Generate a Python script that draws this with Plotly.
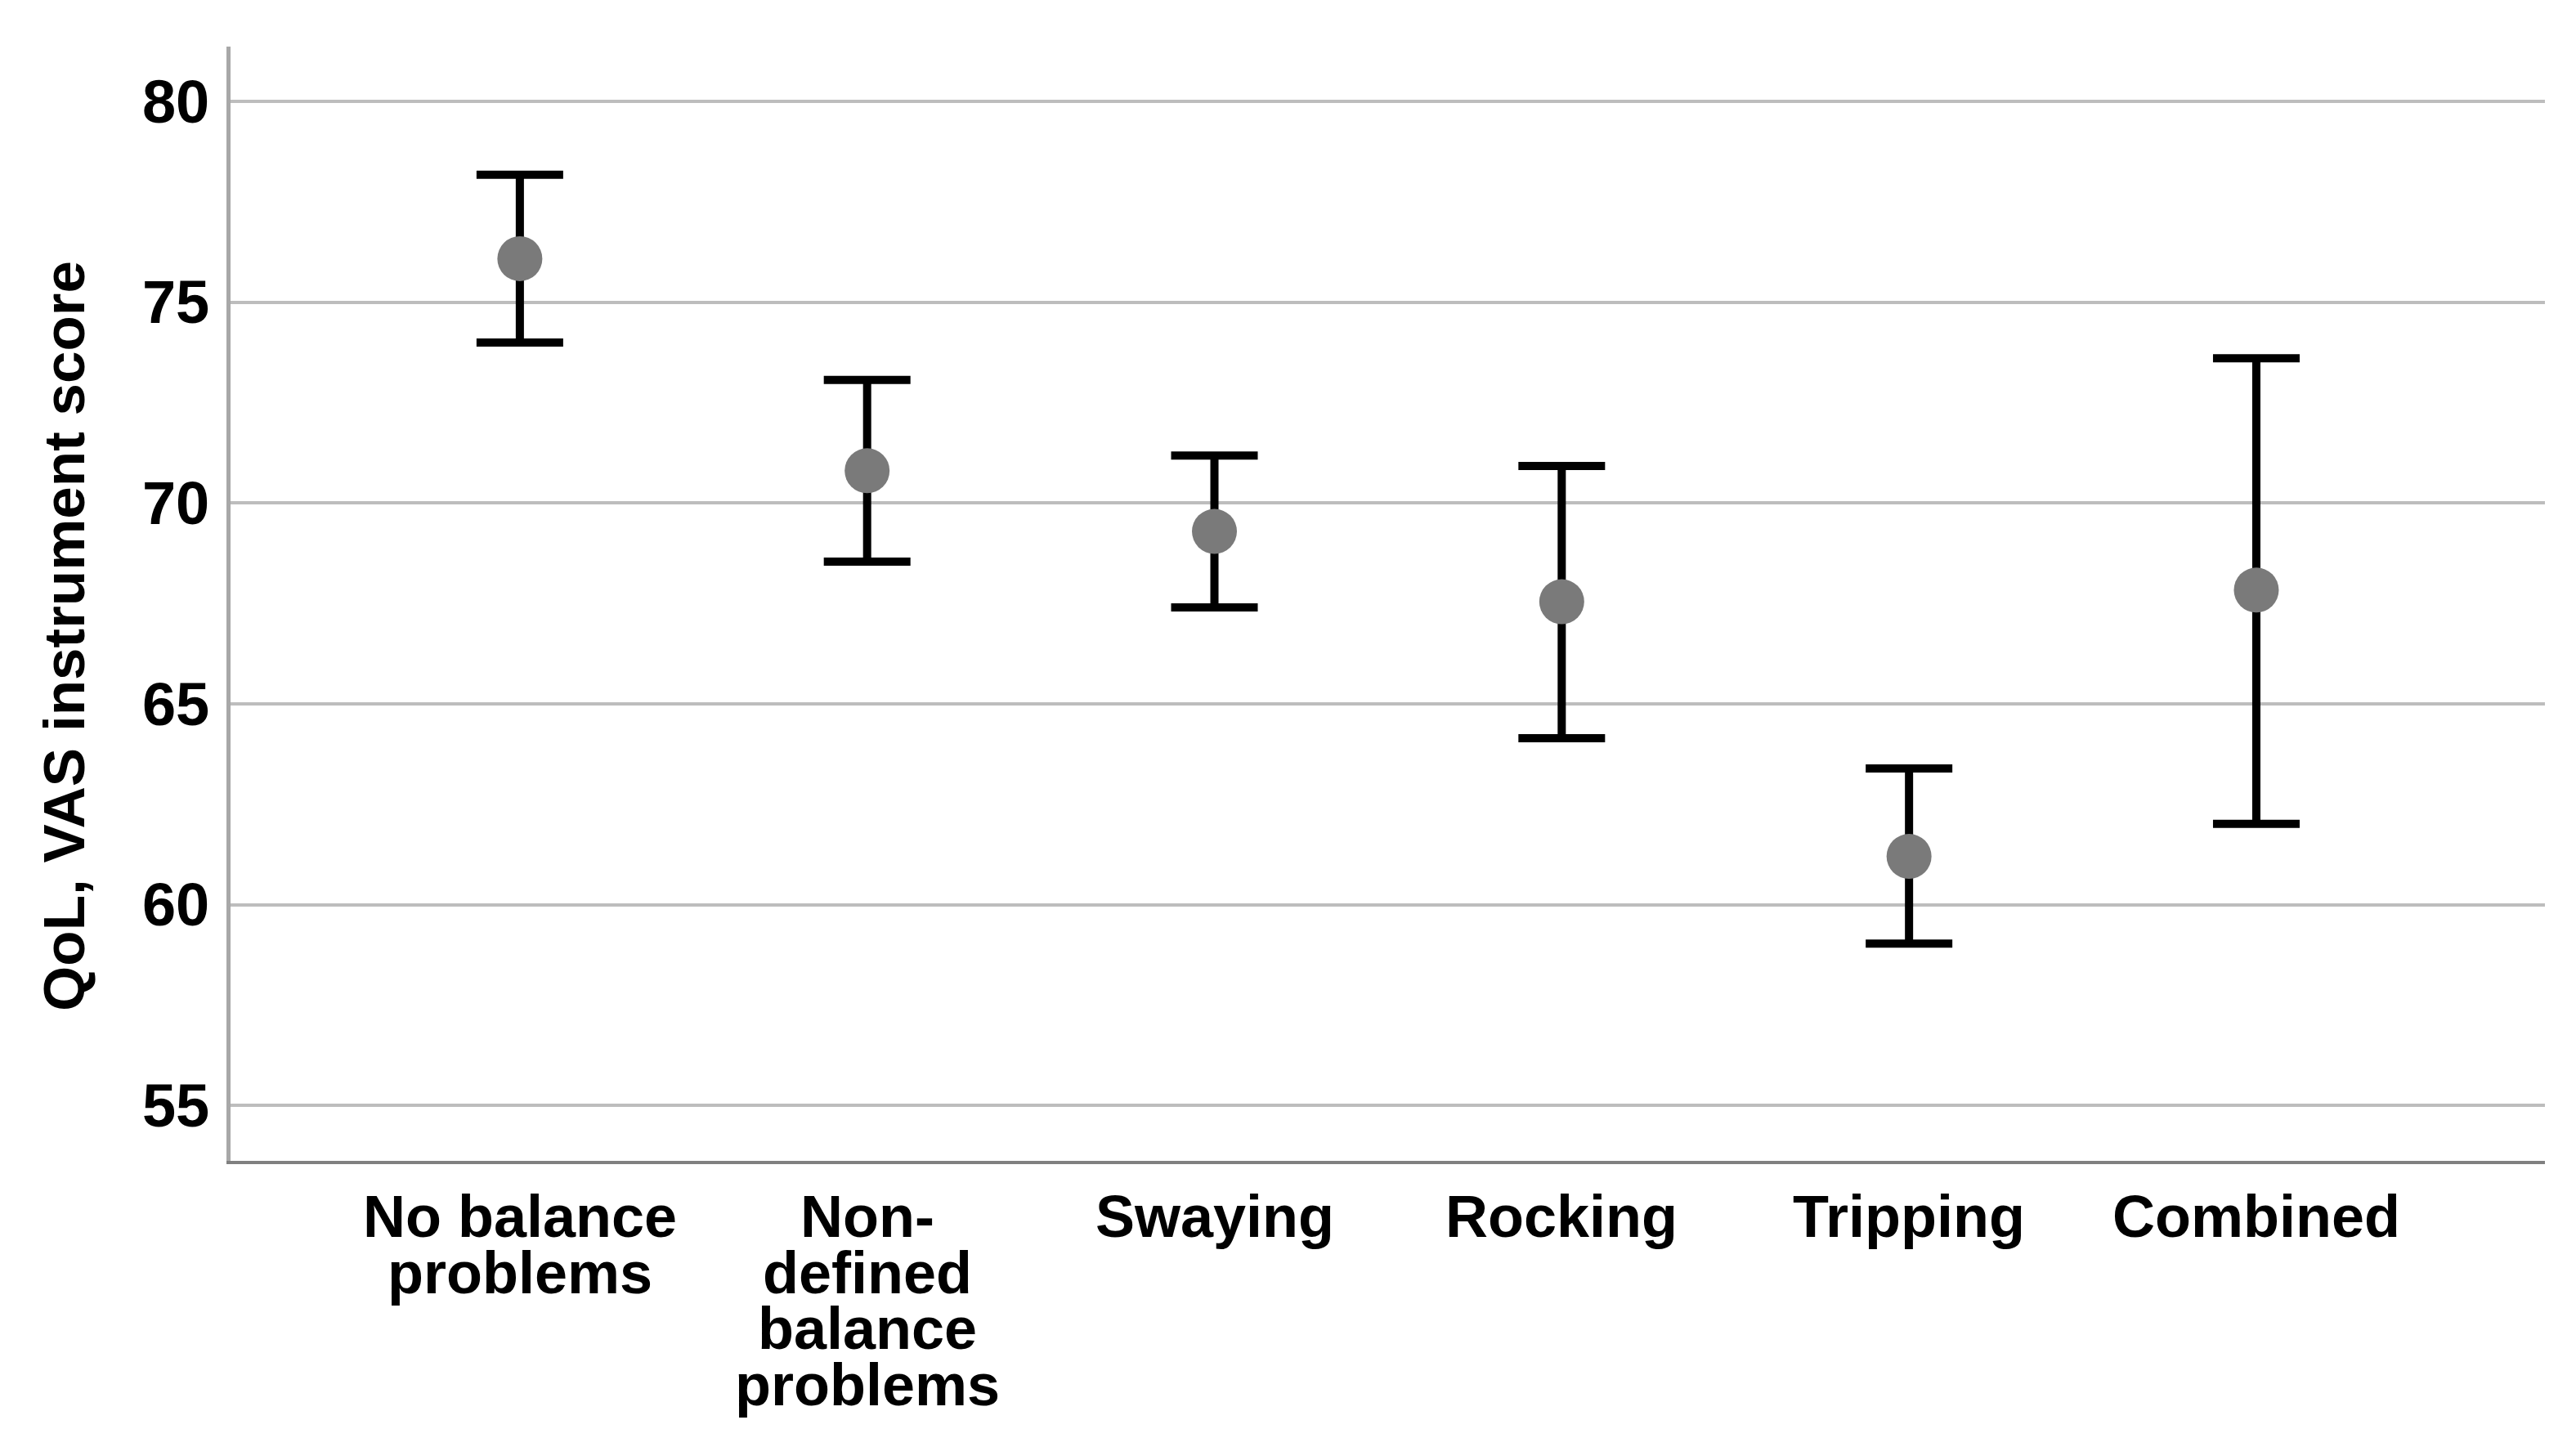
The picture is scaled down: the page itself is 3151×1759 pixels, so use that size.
import plotly.graph_objects as go

# ---- data ----
categories = ["No balance problems", "Non-defined balance problems", "Swaying",
              "Rocking", "Tripping", "Combined"]
category_lines = [["No balance", "problems"],
                  ["Non-", "defined", "balance", "problems"],
                  ["Swaying"], ["Rocking"], ["Tripping"], ["Combined"]]
means = [76.08, 70.80, 69.29, 67.54, 61.20, 67.83]
upper_ci = [78.17, 73.06, 71.18, 70.92, 63.39, 73.60]
lower_ci = [73.99, 68.54, 67.40, 64.14, 59.03, 62.01]
y_ticks = [55, 60, 65, 70, 75, 80]
y_title = "QoL, VAS instrument score"

err_plus = [u - m for u, m in zip(upper_ci, means)]
err_minus = [m - l for m, l in zip(means, lower_ci)]

FONT = "Liberation Sans, Arial, sans-serif"

fig = go.Figure()
fig.add_trace(go.Scatter(
    x=categories, y=means, mode="markers",
    marker=dict(size=55, color="#7a7a7a", line=dict(width=0)),
    error_y=dict(type="data", symmetric=False, array=err_plus, arrayminus=err_minus,
                 color="black", thickness=10, width=53),
    showlegend=False, hoverinfo="x+y",
))

annotations = []
for cat, lines in zip(categories, category_lines):
    for i, line in enumerate(lines):
        annotations.append(dict(
            xref="x", x=cat, yref="paper", y=0, yanchor="top", xanchor="center",
            yshift=-(26 + 68.5 * i), text=line, showarrow=False,
            font=dict(family=FONT, size=72, color="black", weight="bold"),
        ))
annotations.append(dict(
    xref="paper", x=-0.0721, yref="paper", y=0.471, xanchor="center", yanchor="middle",
    text=y_title, textangle=-90, showarrow=False,
    font=dict(family=FONT, size=71, color="black", weight="bold"),
))

# the page adds an 8px body margin, so the figure is a little smaller
fig.update_layout(
    width=3143, height=1751,
    margin=dict(l=274, r=38, t=49, b=339, pad=0),
    paper_bgcolor="white", plot_bgcolor="white",
    font=dict(family=FONT, color="black"),
    annotations=annotations,
    xaxis=dict(
        type="category", categoryorder="array", categoryarray=categories,
        range=[-0.833, 5.831], showticklabels=False, ticks="",
        showgrid=False, zeroline=False,
        showline=True, linecolor="#808080", linewidth=4,
    ),
    yaxis=dict(
        range=[53.62, 81.36], tickvals=y_ticks, ticks="",
        tickfont=dict(family=FONT, size=74, color="black", weight="bold"),
        ticklabelstandoff=6,
        showgrid=True, gridcolor="#bdbdbd", gridwidth=3.5, zeroline=False,
        showline=True, linecolor="#a8a8a8", linewidth=5,
    ),
)

fig.write_html("out.html")
